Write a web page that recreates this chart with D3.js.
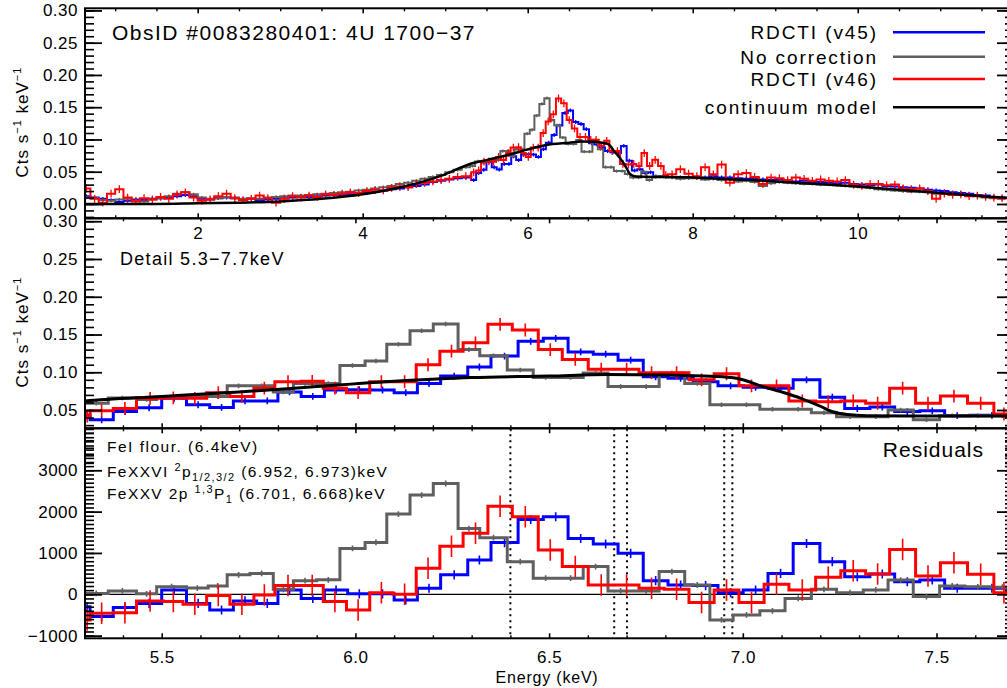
<!DOCTYPE html>
<html>
<head>
<meta charset="UTF-8">
<title>4U 1700-37 spectra</title>
<script src="https://d3js.org/d3.v7.min.js"></script>
<style>
  body { margin: 0; background: #fff; }
  text { font-family: "Liberation Sans", Arial, Helvetica, sans-serif; fill: #000; }
</style>
</head>
<body>
<script>
// ---------------- data ----------------
var seriesNames = ["RDCTI (v45)", "No correction", "RDCTI (v46)"];
var seriesColors = ["#0000ff", "#5f5f5f", "#ff0000"];

// full band, coarse bins below and above the detail window
var lowStart = 0.6, lowWidth = 0.1;     // 47 bins, 0.6 - 5.3 keV
var highStart = 7.7, highWidth = 0.1;   // 41 bins, 7.7 - 11.8 keV

var blueLow = [0.012, 0.010, 0.008, 0.006, 0.003, 0.005, 0.007, 0.006, 0.008, 0.009,
  0.011, 0.012, 0.014, 0.012, 0.008, 0.007, 0.009, 0.010, 0.009, 0.007,
  0.008, 0.006, 0.007, 0.008, 0.009, 0.010, 0.011, 0.011, 0.012, 0.013,
  0.014, 0.014, 0.015, 0.017, 0.018, 0.019, 0.021, 0.023, 0.024, 0.026,
  0.028, 0.030, 0.034, 0.036, 0.038, 0.040, 0.041];
var grayLow = [0.010, 0.009, 0.006, 0.005, 0.007, 0.008, 0.005, 0.004, 0.007, 0.009,
  0.012, 0.016, 0.018, 0.015, 0.010, 0.008, 0.009, 0.011, 0.010, 0.008,
  0.009, 0.008, 0.010, 0.011, 0.012, 0.013, 0.013, 0.014, 0.015, 0.016,
  0.017, 0.018, 0.019, 0.021, 0.022, 0.024, 0.026, 0.028, 0.031, 0.033,
  0.036, 0.039, 0.042, 0.045, 0.049, 0.053, 0.057];
var redLow = [0.024, 0.008, 0.002, 0.016, 0.023, 0.010, 0.004, 0.009, 0.007, 0.011,
  0.008, 0.015, 0.018, 0.010, 0.005, 0.007, 0.012, 0.016, 0.009, 0.006,
  0.008, 0.013, 0.009, 0.002, 0.008, 0.012, 0.010, 0.013, 0.011, 0.015,
  0.014, 0.016, 0.018, 0.017, 0.020, 0.022, 0.021, 0.025, 0.027, 0.026,
  0.031, 0.033, 0.035, 0.037, 0.039, 0.042, 0.043];

var blueHigh = [0.042, 0.041, 0.041, 0.042, 0.041, 0.043, 0.041, 0.041, 0.040, 0.039,
  0.040, 0.038, 0.037, 0.038, 0.036, 0.035, 0.036, 0.034, 0.034, 0.033,
  0.032, 0.033, 0.031, 0.030, 0.029, 0.030, 0.028, 0.027, 0.026, 0.025,
  0.024, 0.022, 0.021, 0.020, 0.018, 0.017, 0.016, 0.014, 0.013, 0.011, 0.010];
var grayHigh = [0.041, 0.039, 0.040, 0.040, 0.038, 0.039, 0.037, 0.038, 0.035, 0.036,
  0.034, 0.028, 0.032, 0.034, 0.033, 0.032, 0.031, 0.031, 0.030, 0.030,
  0.029, 0.028, 0.027, 0.026, 0.025, 0.023, 0.022, 0.021, 0.020, 0.019,
  0.019, 0.018, 0.016, 0.016, 0.015, 0.014, 0.013, 0.012, 0.010, 0.009, 0.008];
var redHigh = [0.046, 0.054, 0.047, 0.043, 0.057, 0.046, 0.061, 0.033, 0.046, 0.048,
  0.042, 0.031, 0.041, 0.040, 0.037, 0.041, 0.039, 0.036, 0.038, 0.036,
  0.035, 0.037, 0.030, 0.028, 0.031, 0.031, 0.029, 0.030, 0.024, 0.023,
  0.024, 0.020, 0.008, 0.016, 0.014, 0.015, 0.012, 0.013, 0.011, 0.010, 0.009];

// detail window 5.3 - 7.7 keV : bin edges, rates, residuals
var blueEdges = [5.300, 5.315, 5.375, 5.435, 5.500, 5.564, 5.624, 5.685, 5.745, 5.800,
  5.860, 5.920, 5.980, 6.040, 6.100, 6.160, 6.220, 6.290, 6.350, 6.420,
  6.485, 6.549, 6.614, 6.678, 6.743, 6.807, 6.872, 6.936, 7.001, 7.065,
  7.130, 7.199, 7.263, 7.328, 7.392, 7.457, 7.521, 7.586, 7.700];
var blueRate = [0.043, 0.037, 0.048, 0.053, 0.0655, 0.057, 0.0535, 0.062, 0.062, 0.074,
  0.068, 0.0765, 0.077, 0.0765, 0.073, 0.085, 0.095, 0.107, 0.1215, 0.141,
  0.145, 0.127, 0.124, 0.116, 0.094, 0.092, 0.0875, 0.082, 0.080, 0.079,
  0.090, 0.067, 0.052, 0.054, 0.048, 0.049, 0.0425, 0.043];
var blueResid = [-300, -540, -320, -220, 105, -220, -380, -160, -220, 105,
  -100, 105, 10, 10, -140, 145, 470, 830, 1250, 1810,
  1875, 1350, 1215, 990, 330, 225, 210, 40, 105, 505,
  1230, 790, 425, 490, 305, 345, 145, 145];

var grayEdges = [5.300, 5.362, 5.435, 5.487, 5.564, 5.620, 5.669, 5.728, 5.788, 5.840,
  5.900, 5.960, 6.025, 6.081, 6.141, 6.201, 6.265, 6.321, 6.392, 6.459,
  6.523, 6.588, 6.652, 6.717, 6.784, 6.850, 6.915, 6.975, 7.044, 7.109,
  7.177, 7.242, 7.311, 7.375, 7.440, 7.508, 7.573, 7.640, 7.700];
var grayRate = [0.059, 0.066, 0.064, 0.067, 0.068, 0.068, 0.082, 0.082, 0.074, 0.085,
  0.085, 0.109, 0.115, 0.137, 0.155, 0.164, 0.130, 0.122, 0.103, 0.093,
  0.093, 0.099, 0.081, 0.081, 0.099, 0.085, 0.057, 0.057, 0.051, 0.051,
  0.0465, 0.041, 0.041, 0.050, 0.037, 0.0425, 0.0425, 0.0425];
var grayResid = [20, 80, 10, 185, 150, 200, 470, 505, 120, 330,
  350, 1110, 1255, 1940, 2400, 2680, 1590, 1370, 790, 390,
  390, 670, 80, 80, 550, 225, -620, -500, -400, -100,
  120, 40, 105, 345, -55, 200, 180, 170];

var redEdges = [5.300, 5.315, 5.375, 5.435, 5.505, 5.555, 5.616, 5.676, 5.738, 5.792,
  5.860, 5.917, 5.977, 6.037, 6.097, 6.157, 6.218, 6.278, 6.342, 6.405,
  6.472, 6.534, 6.601, 6.668, 6.732, 6.797, 6.861, 6.926, 6.990, 7.055,
  7.119, 7.188, 7.253, 7.317, 7.379, 7.446, 7.510, 7.580, 7.648, 7.700];
var redRate = [0.042, 0.049, 0.052, 0.0655, 0.066, 0.0655, 0.073, 0.068, 0.079, 0.0875,
  0.088, 0.079, 0.073, 0.0875, 0.0875, 0.110, 0.128, 0.139, 0.1635, 0.156,
  0.130, 0.117, 0.104, 0.104, 0.0995, 0.0995, 0.090, 0.098, 0.082, 0.082,
  0.062, 0.061, 0.062, 0.059, 0.079, 0.059, 0.0685, 0.059, 0.0447];
var redResid = [-620, -460, -445, -160, -175, -240, -30, -240, -15, 210,
  210, -175, -380, 40, 0, 630, 1165, 1475, 2130, 1875,
  1070, 670, 225, 225, 145, 120, -200, 105, -200, 240,
  105, 410, 570, 490, 1085, 445, 765, 485, 40];

// 1-sigma errors (blue, gray, red)
var topErr = [0.003, 0.0025, 0.006];
var detailErr = [0.0045, 0.003, 0.0085];
var residErr = [110, 70, 260];

// continuum model
var modelE = [0.6, 1.0, 1.5, 2.0, 2.5, 3.0, 3.5, 4.0, 4.5, 5.0,
  5.3, 5.5, 5.7, 5.9, 6.1, 6.3, 6.5, 6.65, 6.8, 6.9,
  6.97, 7.0, 7.04, 7.1, 7.15, 7.2, 7.23, 7.27, 7.32, 7.5,
  7.7, 8.0, 8.5, 9.0, 9.5, 10.0, 10.5, 11.0, 11.5, 11.9];
var modelV = [0.000, 0.000, 0.000, 0.001, 0.002, 0.004, 0.008, 0.015, 0.027, 0.046,
  0.062, 0.068, 0.074, 0.081, 0.088, 0.093, 0.095, 0.097, 0.0965, 0.095,
  0.093, 0.090, 0.083, 0.074, 0.0655, 0.055, 0.048, 0.044, 0.0425, 0.042,
  0.042, 0.041, 0.038, 0.035, 0.031, 0.027, 0.022, 0.017, 0.012, 0.009];

// iron line energies (keV)
var lineE = [6.4, 6.668, 6.701, 6.952, 6.973];

// ---------------- layout ----------------
var W = 1007, H = 688;
var L = 85, R = 1014;
var FONT = '"Liberation Sans", Arial, Helvetica, sans-serif';

var svg = d3.select("body").append("svg").attr("width", W).attr("height", H);

var x1 = d3.scaleLinear().domain([0.634, 11.894]).range([L, R]);
var xd = d3.scaleLinear().domain([5.302, 7.700]).range([L, R]);
var y1 = d3.scaleLinear().domain([-0.0222, 0.3033]).range([218.3, 8.3]);
var y2 = d3.scaleLinear().domain([0.0258, 0.3039]).range([428.3, 218.3]);
var y3 = d3.scaleLinear().domain([-1065, 4016]).range([638.3, 428.3]);

var defs = svg.append("defs");
function clip(id, y) {
  defs.append("clipPath").attr("id", id).append("rect")
    .attr("x", L).attr("y", y.range()[1]).attr("width", R - L).attr("height", y.range()[0] - y.range()[1]);
  return svg.append("g").attr("clip-path", "url(#" + id + ")");
}

function gridEdges(start, width, n) {
  return d3.range(n + 1).map(function(i) { return start + i * width; });
}
function stepPts(edges, vals) {
  var p = vals.map(function(v, i) { return [edges[i], v]; });
  p.push([edges[edges.length - 1], vals[vals.length - 1]]);
  return p;
}

function drawHist(g, x, y, segs, err, color, lw, ew) {
  var pts = [];
  segs.forEach(function(s) { pts = pts.concat(stepPts(s.edges, s.vals)); });
  var line = d3.line().x(function(d) { return x(d[0]); }).y(function(d) { return y(d[1]); })
    .curve(d3.curveStepAfter);
  var bars = [];
  segs.forEach(function(s) {
    s.vals.forEach(function(v, i) { bars.push([(s.edges[i] + s.edges[i + 1]) / 2, v]); });
  });
  g.append("g").selectAll("line").data(bars).enter().append("line")
    .attr("x1", function(d) { return x(d[0]); }).attr("x2", function(d) { return x(d[0]); })
    .attr("y1", function(d) { return y(d[1] - err); }).attr("y2", function(d) { return y(d[1] + err); })
    .attr("stroke", color).attr("stroke-width", ew);
  g.append("path").datum(pts).attr("d", line)
    .attr("fill", "none").attr("stroke", color).attr("stroke-width", lw)
    .attr("stroke-linejoin", "miter");
}

function drawModel(g, x, y, lw) {
  var pts = modelE.map(function(e, i) { return [e, modelV[i]]; });
  g.append("path").datum(pts)
    .attr("d", d3.line().x(function(d) { return x(d[0]); }).y(function(d) { return y(d[1]); })
      .curve(d3.curveMonotoneX))
    .attr("fill", "none").attr("stroke", "#000").attr("stroke-width", lw);
}

function noLabel() { return ""; }
function styleAxis(sel, w) {
  sel.select(".domain").remove();
  sel.selectAll(".tick line").attr("stroke-width", w);
  sel.selectAll("text").attr("font-family", FONT).attr("font-size", 17)
    .style("letter-spacing", "0.5px");
}

function drawAxes(x, y, o) {
  var top = y.range()[1], bottom = y.range()[0];
  var g = svg.append("g");
  g.append("g").attr("transform", "translate(0," + bottom + ")")
    .call(d3.axisBottom(x).tickValues(o.xMaj).tickSize(-5).tickSizeOuter(0)
      .tickPadding(o.xPad).tickFormat(o.xFmt || noLabel)).call(styleAxis, 1.6);
  g.append("g").attr("transform", "translate(0," + bottom + ")")
    .call(d3.axisBottom(x).tickValues(o.xMin).tickSize(-3).tickSizeOuter(0).tickFormat(noLabel))
    .call(styleAxis, 1.4);
  g.append("g").attr("transform", "translate(0," + top + ")")
    .call(d3.axisTop(x).tickValues(o.xMaj).tickSize(-5).tickSizeOuter(0).tickFormat(noLabel))
    .call(styleAxis, 1.6);
  g.append("g").attr("transform", "translate(0," + top + ")")
    .call(d3.axisTop(x).tickValues(o.xMin).tickSize(-3).tickSizeOuter(0).tickFormat(noLabel))
    .call(styleAxis, 1.4);
  g.append("g").attr("transform", "translate(" + L + ",0)")
    .call(d3.axisLeft(y).tickValues(o.yMaj).tickSize(-17).tickSizeOuter(0)
      .tickPadding(7).tickFormat(o.yFmt)).call(styleAxis, 1.8);
  g.append("g").attr("transform", "translate(" + L + ",0)")
    .call(d3.axisLeft(y).tickValues(o.yMin).tickSize(-9).tickSizeOuter(0).tickFormat(noLabel))
    .call(styleAxis, 1.6);
  g.append("g").attr("transform", "translate(" + R + ",0)")
    .call(d3.axisRight(y).tickValues(o.yMaj).tickSize(-17).tickSizeOuter(0).tickFormat(noLabel))
    .call(styleAxis, 1.8);
  g.append("g").attr("transform", "translate(" + R + ",0)")
    .call(d3.axisRight(y).tickValues(o.yMin).tickSize(-9).tickSizeOuter(0).tickFormat(noLabel))
    .call(styleAxis, 1.6);
  g.append("rect").attr("x", L).attr("y", top).attr("width", R - L).attr("height", bottom - top)
    .attr("fill", "none").attr("stroke", "#000").attr("stroke-width", 2);
}

function notMult(step) {
  return function(v) { return Math.abs(v / step - Math.round(v / step)) > 1e-6; };
}
var topXMin = d3.range(1, 11.9, 0.5).filter(notMult(2));
var detXMin = d3.range(5.4, 7.71, 0.1).filter(notMult(0.5));
var rateYMin = d3.range(-0.02, 0.305, 0.01);
var residYMin = d3.range(-1000, 4001, 100);

// ---------------- top panel: full band ----------------
var lowE = gridEdges(lowStart, lowWidth, blueLow.length);
var highE = gridEdges(highStart, highWidth, blueHigh.length);
var topSegs = [
  [{edges: lowE, vals: blueLow}, {edges: blueEdges, vals: blueRate}, {edges: highE, vals: blueHigh}],
  [{edges: lowE, vals: grayLow}, {edges: grayEdges, vals: grayRate}, {edges: highE, vals: grayHigh}],
  [{edges: lowE, vals: redLow}, {edges: redEdges, vals: redRate}, {edges: highE, vals: redHigh}]
];
var g1 = clip("c1", y1);
topSegs.forEach(function(s, k) { drawHist(g1, x1, y1, s, topErr[k], seriesColors[k], 2, 1.3); });
drawModel(g1, x1, y1, 2.5);

// ---------------- middle panel: detail ----------------
var detSegs = [
  [{edges: blueEdges, vals: blueRate}],
  [{edges: grayEdges, vals: grayRate}],
  [{edges: redEdges, vals: redRate}]
];
var g2 = clip("c2", y2);
detSegs.forEach(function(s, k) { drawHist(g2, xd, y2, s, detailErr[k], seriesColors[k], 3, 1.6); });
drawModel(g2, xd, y2, 3);

// ---------------- bottom panel: residuals ----------------
var g3 = clip("c3", y3);
g3.append("line").attr("x1", L).attr("x2", R).attr("y1", y3(0)).attr("y2", y3(0))
  .attr("stroke", "#000").attr("stroke-width", 1.3);
g3.selectAll(".fe").data(lineE).enter().append("line")
  .attr("x1", function(d) { return xd(d); }).attr("x2", function(d) { return xd(d); })
  .attr("y1", y3.range()[1]).attr("y2", y3.range()[0])
  .attr("stroke", "#000").attr("stroke-width", 2).attr("stroke-dasharray", "2,4");
var residSegs = [
  [{edges: blueEdges, vals: blueResid}],
  [{edges: grayEdges, vals: grayResid}],
  [{edges: redEdges, vals: redResid}]
];
residSegs.forEach(function(s, k) { drawHist(g3, xd, y3, s, residErr[k], seriesColors[k], 3, 1.6); });

// ---------------- axes ----------------
var f2 = d3.format(".2f");
drawAxes(x1, y1, {xMaj: [2, 4, 6, 8, 10], xMin: topXMin, xFmt: d3.format("d"), xPad: 9,
  yMaj: [0, 0.05, 0.10, 0.15, 0.20, 0.25, 0.30], yMin: rateYMin, yFmt: f2});
drawAxes(xd, y2, {xMaj: [5.5, 6.0, 6.5, 7.0, 7.5], xMin: detXMin, xFmt: null, xPad: 10,
  yMaj: [0.05, 0.10, 0.15, 0.20, 0.25, 0.30], yMin: rateYMin, yFmt: f2});
drawAxes(xd, y3, {xMaj: [5.5, 6.0, 6.5, 7.0, 7.5], xMin: detXMin, xFmt: d3.format(".1f"), xPad: 13,
  yMaj: [-1000, 0, 1000, 2000, 3000], yMin: residYMin, yFmt: d3.format("d")});

// ---------------- texts ----------------
function ytitle(cy) {
  var t = svg.append("text").attr("transform", "translate(28," + cy + ") rotate(-90)")
    .attr("text-anchor", "middle").attr("font-size", 17).style("letter-spacing", "1px");
  t.append("tspan").text("Cts s");
  t.append("tspan").attr("dy", -7).attr("font-size", 11).text("\u22121");
  t.append("tspan").attr("dy", 7).text(" keV");
  t.append("tspan").attr("dy", -7).attr("font-size", 11).text("\u22121");
}
ytitle(122);
ytitle(332);

svg.append("text").attr("x", 112).attr("y", 40).attr("font-size", 21)
  .style("letter-spacing", "1.5px").text("ObsID #0083280401: 4U 1700\u221237");

var legY = [32.3, 56.7, 79, 107.3];
var legLabels = seriesNames.concat(["continuum model"]);
var legColors = seriesColors.concat(["#000"]);
legLabels.forEach(function(lab, i) {
  svg.append("text").attr("x", 878).attr("y", legY[i] + 7).attr("text-anchor", "end")
    .attr("font-size", 19).style("letter-spacing", "1.9px").text(lab);
  svg.append("line").attr("x1", 893).attr("x2", 985).attr("y1", legY[i]).attr("y2", legY[i])
    .attr("stroke", legColors[i]).attr("stroke-width", 2.6);
});

svg.append("text").attr("x", 120).attr("y", 265).attr("font-size", 18)
  .style("letter-spacing", "1.3px").text("Detail 5.3\u22127.7keV");

var a1 = svg.append("text").attr("x", 107).attr("y", 452).attr("font-size", 15.5).style("letter-spacing", "1.5px");
a1.text("FeI flour. (6.4keV)");
var a2 = svg.append("text").attr("x", 107).attr("y", 476.5).attr("font-size", 15.5).style("letter-spacing", "1.4px");
a2.append("tspan").text("FeXXVI ");
a2.append("tspan").attr("dy", -6).attr("font-size", 11).text("2");
a2.append("tspan").attr("dy", 6).text("p");
a2.append("tspan").attr("dy", 4).attr("font-size", 11).text("1/2,3/2");
a2.append("tspan").attr("dy", -4).text(" (6.952, 6.973)keV");
var a3 = svg.append("text").attr("x", 107).attr("y", 499).attr("font-size", 15.5).style("letter-spacing", "1.4px");
a3.append("tspan").text("FeXXV 2p ");
a3.append("tspan").attr("dy", -6).attr("font-size", 11).text("1,3");
a3.append("tspan").attr("dy", 6).text("P");
a3.append("tspan").attr("dy", 4).attr("font-size", 11).text("1");
a3.append("tspan").attr("dy", -4).text(" (6.701, 6.668)keV");

svg.append("text").attr("x", 984).attr("y", 456.7).attr("text-anchor", "end").attr("font-size", 21)
  .style("letter-spacing", "1px").text("Residuals");

svg.append("text").attr("x", 547).attr("y", 683).attr("text-anchor", "middle").attr("font-size", 16)
  .style("letter-spacing", "0.8px").text("Energy (keV)");
</script>
</body>
</html>
